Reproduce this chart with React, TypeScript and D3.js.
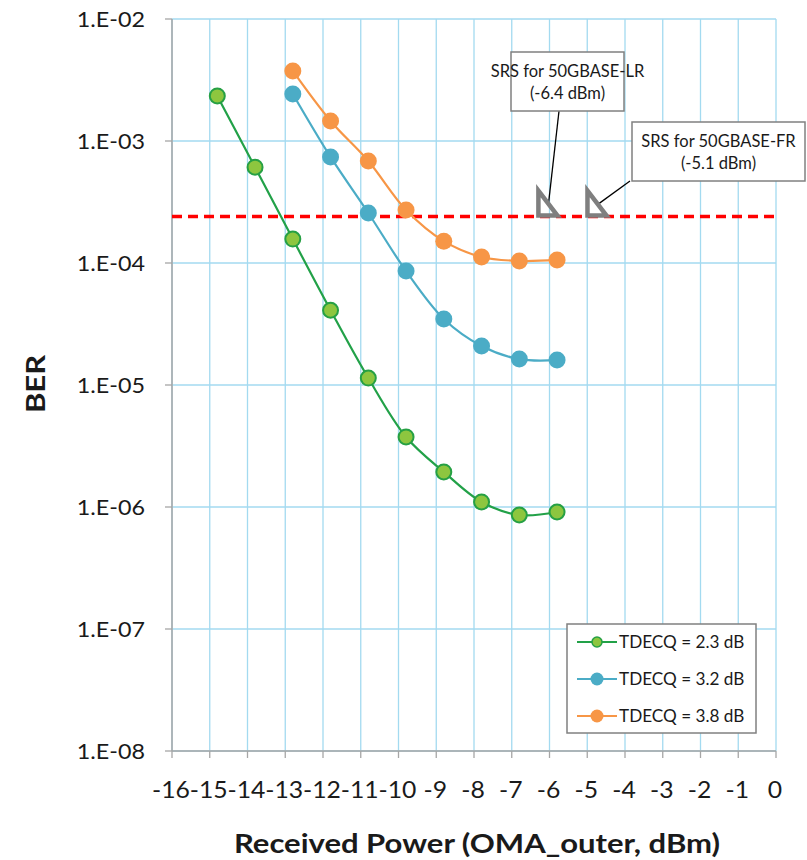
import React from "react";
import * as d3 from "d3";

const xValues = [-14.8, -13.8, -12.8, -11.8, -10.8, -9.8, -8.8, -7.8, -6.8, -5.8];
const green = [2.34e-3, 6.1e-4, 1.57e-4, 4.1e-5, 1.14e-5, 3.75e-6, 1.94e-6, 1.1e-6, 8.6e-7, 9.1e-7];
const blue = [null, null, 2.43e-3, 7.4e-4, 2.57e-4, 8.6e-5, 3.48e-5, 2.09e-5, 1.63e-5, 1.6e-5];
const orange = [null, null, 3.75e-3, 1.46e-3, 6.86e-4, 2.72e-4, 1.51e-4, 1.12e-4, 1.04e-4, 1.06e-4];
const seriesNames = ["TDECQ = 2.3 dB", "TDECQ = 3.2 dB", "TDECQ = 3.8 dB"];
const xTicks = d3.range(-16, 1, 1);
const yTicks = [1e-2, 1e-3, 1e-4, 1e-5, 1e-6, 1e-7, 1e-8];
const yTickLabels = ["1.E-02", "1.E-03", "1.E-04", "1.E-05", "1.E-06", "1.E-07", "1.E-08"];
const threshold = 2.4e-4;
const srsValues = [-6.4, -5.1];
const srsLines = [["SRS for 50GBASE-LR", "(-6.4 dBm)"], ["SRS for 50GBASE-FR", "(-5.1 dBm)"]];

const W = 807, H = 860;
const L = 172, R = 776, T = 19, B = 751;
const FONT = "Lato, 'Open Sans', sans-serif";

function ST(props: { x: number; y: number; sx?: number; rot?: number; anchor?: string; size: number; bold?: boolean; children: React.ReactNode }) {
  const { x, y, sx = 1, rot = 0, anchor = "start", size, bold } = props;
  return (
    <text
      transform={`translate(${x},${y})${rot ? ` rotate(${rot})` : ""} scale(${sx},1)`}
      textAnchor={anchor}
      fontSize={size}
      fontWeight={bold ? "bold" : "normal"}
      fill="#1a1a1a"
    >
      {props.children}
    </text>
  );
}

export default function App() {
  const x = d3.scaleLinear().domain([-16, 0]).range([L, R]);
  const y = d3.scaleLog().domain([1e-8, 1e-2]).range([B, T]);

  const series = [
    { data: green, line: "#22A148", fill: "#8DC63F", stroke: "#26A044", sw: 2, r: 7.5 },
    { data: blue, line: "#4BACC6", fill: "#4BACC6", stroke: "none", sw: 0, r: 8.5 },
    { data: orange, line: "#F79646", fill: "#F79646", stroke: "none", sw: 0, r: 8.5 },
  ];

  const lineGen = d3
    .line<[number, number]>()
    .x((d) => x(d[0]))
    .y((d) => y(d[1]))
    .curve(d3.curveCatmullRom.alpha(0.5));

  const boxes = [
    { x0: 511, x1: 624, y0: 52, y1: 111, lx: 559 },
    { x0: 632, x1: 805, y0: 122, y1: 181, lx: 630 },
  ];

  return (
    <svg width={W} height={H} style={{ position: "absolute", left: 0, top: 0, background: "#fff" }} fontFamily={FONT}>
      {/* grid */}
      {xTicks.map((t) => (
        <line key={"gx" + t} x1={x(t)} x2={x(t)} y1={T} y2={B} stroke="#A3DAF0" strokeWidth={1.3} />
      ))}
      {yTicks.map((t) => (
        <line key={"gy" + t} x1={L} x2={R} y1={y(t)} y2={y(t)} stroke="#A3DAF0" strokeWidth={1.3} />
      ))}
      {/* axes */}
      <line x1={L} x2={L} y1={T} y2={B} stroke="#A6A6A6" strokeWidth={1.5} />
      <line x1={L} x2={R} y1={B} y2={B} stroke="#A6A6A6" strokeWidth={1.5} />
      {xTicks.map((t) => (
        <line key={"tx" + t} x1={x(t)} x2={x(t)} y1={B} y2={B + 7} stroke="#A6A6A6" strokeWidth={1.3} />
      ))}
      {yTicks.map((t) => (
        <line key={"ty" + t} x1={L - 7} x2={L} y1={y(t)} y2={y(t)} stroke="#A6A6A6" strokeWidth={1.3} />
      ))}
      {/* tick labels */}
      {xTicks.map((t) => (
        <ST key={"lx" + t} x={x(t) - 1} y={798} anchor="middle" size={22.5} sx={1.1}>
          {String(t)}
        </ST>
      ))}
      {yTicks.map((t, i) => (
        <ST key={"ly" + t} x={145} y={y(t) + 8} anchor="end" size={22} sx={1.06}>
          {yTickLabels[i]}
        </ST>
      ))}
      {/* axis titles */}
      <ST x={(L + R) / 2 + 3} y={853} anchor="middle" size={27} sx={1.15} bold>
        Received Power (OMA_outer, dBm)
      </ST>
      <ST x={45} y={(T + B) / 2 - 1} anchor="middle" size={27} sx={1.15} rot={-90} bold>
        BER
      </ST>
      {/* threshold */}
      <line x1={L} x2={R + 4} y1={y(threshold)} y2={y(threshold)} stroke="#FF0000" strokeWidth={3.5} strokeDasharray="10 6" />
      {/* series */}
      {series.map((s, i) => {
        const pts = xValues
          .map((xv, j) => [xv, s.data[j]] as [number, number | null])
          .filter((p) => p[1] != null) as [number, number][];
        return (
          <g key={"s" + i}>
            <path d={lineGen(pts) || ""} fill="none" stroke={s.line} strokeWidth={2.2} />
            {pts.map((p, j) => (
              <circle key={j} cx={x(p[0])} cy={y(p[1])} r={s.r} fill={s.fill} stroke={s.stroke} strokeWidth={s.sw} />
            ))}
          </g>
        );
      })}
      {/* SRS markers */}
      {srsValues.map((v, i) => {
        const x0 = x(v) + 4;
        const yb = y(threshold) - 1;
        const b = boxes[i];
        return (
          <g key={"srs" + i}>
            <line x1={b.lx} y1={b.y1} x2={x0 + 10} y2={yb - 11} stroke="#000" strokeWidth={1.3} />
            <path d={`M${x0},${yb - 25}L${x0},${yb}L${x0 + 19},${yb}Z`} fill="none" stroke="#7F7F7F" strokeWidth={4.5} strokeLinejoin="miter" />
            <rect x={b.x0} y={b.y0} width={b.x1 - b.x0} height={b.y1 - b.y0} fill="#fff" stroke="#808080" strokeWidth={1.5} />
            <ST x={(b.x0 + b.x1) / 2} y={b.y0 + 25} anchor="middle" size={16.5}>
              {srsLines[i][0]}
            </ST>
            <ST x={(b.x0 + b.x1) / 2} y={b.y0 + 47} anchor="middle" size={16.5}>
              {srsLines[i][1]}
            </ST>
          </g>
        );
      })}
      {/* legend */}
      <rect x={567} y={624} width={189} height={109} fill="#fff" stroke="#808080" strokeWidth={1.5} />
      {series.map((s, i) => {
        const yy = 642 + i * 37;
        return (
          <g key={"lg" + i}>
            <line x1={577} x2={617} y1={yy} y2={yy} stroke={s.line} strokeWidth={2.2} />
            <circle cx={597} cy={yy} r={i === 0 ? 5 : 6.5} fill={s.fill} stroke={s.stroke} strokeWidth={s.sw ? 1.5 : 0} />
            <ST x={619} y={yy + 6} size={16.5} sx={1.04}>
              {seriesNames[i]}
            </ST>
          </g>
        );
      })}
    </svg>
  );
}
